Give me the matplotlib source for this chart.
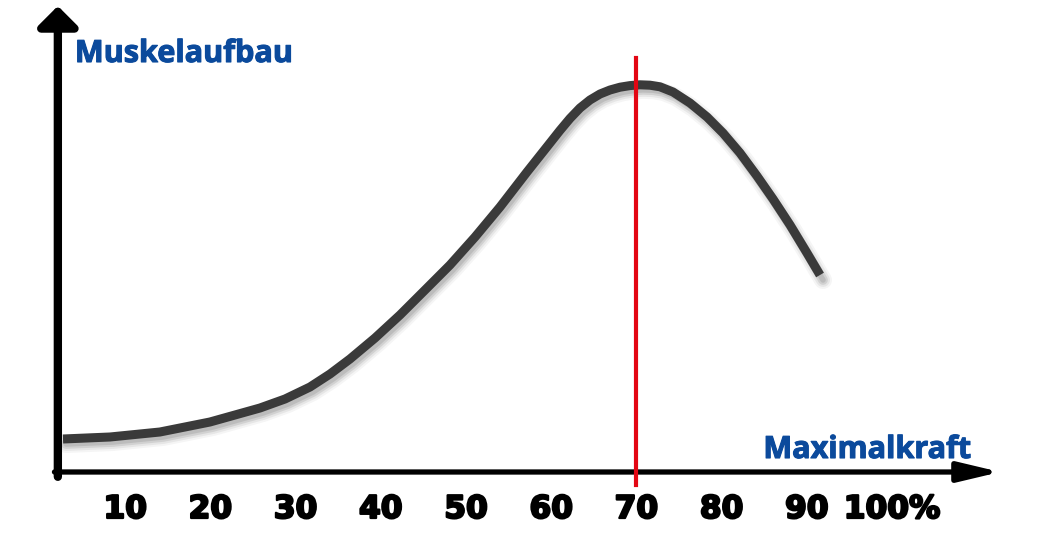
import matplotlib
matplotlib.use("Agg")
import matplotlib.pyplot as plt
import matplotlib.transforms as mtransforms
import matplotlib.patheffects as pe

# curve: x in % of max strength, y = muscle growth (arbitrary units)
curve_x = [2.70, 8.22, 14.08, 19.95, 25.82, 28.76, 31.69, 34.04, 36.38, 39.32,
           42.25, 45.19, 48.12, 51.06, 53.99, 57.16, 59.86, 61.03, 62.21, 63.38,
           64.55, 65.73, 66.90, 68.08, 69.25, 70.42, 71.60, 72.77, 74.30, 76.29,
           78.29, 80.16, 82.16, 84.15, 86.03, 88.03, 90.02, 91.55]
curve_y = [8.25, 8.75, 10.0, 12.5, 16.0, 18.25, 21.25, 24.5, 28.25, 33.5,
           39.25, 45.5, 51.75, 58.75, 66.25, 75.0, 82.25, 85.4, 88.4, 91.0,
           93.0, 94.5, 95.5, 96.2, 96.6, 96.8, 96.7, 96.3, 95.0, 92.25,
           88.75, 84.75, 79.75, 74.0, 68.25, 61.75, 54.75, 49.25]
tick_values = [10, 20, 30, 40, 50, 60, 70, 80, 90, 100]
tick_labels = ["10", "20", "30", "40", "50", "60", "70", "80", "90", "100%"]
marker_x = 70
y_title = "Muskelaufbau"
x_title = "Maximalkraft"

blue = "#0b4a9c"

fig = plt.figure(figsize=(10.58, 5.54), dpi=100)
ax = fig.add_axes([0, 0, 1, 1])
ax.set_xlim(-4.69, 119.48)
ax.set_ylim(-20.5, 118)
ax.axis("off")

# soft shadow under the curve
shadow = mtransforms.offset_copy(ax.transData, fig=fig, x=3, y=-5, units="dots")
for lw, a in [(13, 0.08), (10, 0.12), (7, 0.2), (4, 0.25)]:
    ax.plot(curve_x, curve_y, color="#808080", lw=lw, alpha=a,
            transform=shadow, solid_capstyle="round", solid_joinstyle="round")

ax.plot(curve_x, curve_y, color="#3a3a3a", lw=6.5,
        solid_capstyle="butt", solid_joinstyle="round", zorder=3)

# red marker at 70 %
ax.plot([marker_x, marker_x], [-3.3, 103.5], color="#e30613", lw=3, zorder=4)

# axes as arrows
ax.annotate("", xy=(2.1, 116.5), xytext=(2.1, -1.2),
            arrowprops=dict(arrowstyle="-|>,head_length=1.0,head_width=1.0",
                            mutation_scale=12, lw=6, color="black",
                            shrinkA=0, shrinkB=0))
ax.annotate("", xy=(112.7, 0), xytext=(1.7, 0),
            arrowprops=dict(arrowstyle="-|>,head_length=2.1,head_width=0.5",
                            mutation_scale=12, lw=3.8, color="black",
                            shrinkA=0, shrinkB=0))

# labels
bold_blue = [pe.withStroke(linewidth=0.8, foreground=blue)]
ax.text(4.1, 102.5, y_title, color=blue, fontsize=22, fontweight="bold",
        family="Open Sans", ha="left", va="baseline", path_effects=bold_blue)
ax.text(84.9, 3.5, x_title, color=blue, fontsize=22, fontweight="bold",
        family="Open Sans", ha="left", va="baseline", path_effects=bold_blue)

heavy = [pe.withStroke(linewidth=1.6, foreground="black")]
for v, lab in zip(tick_values, tick_labels):
    ax.text(v, -11.5, lab, color="black", fontsize=22.5, fontweight="bold",
            family="DejaVu Sans", ha="center", va="baseline", path_effects=heavy)

fig.savefig("out.png", dpi=100, facecolor="white")
